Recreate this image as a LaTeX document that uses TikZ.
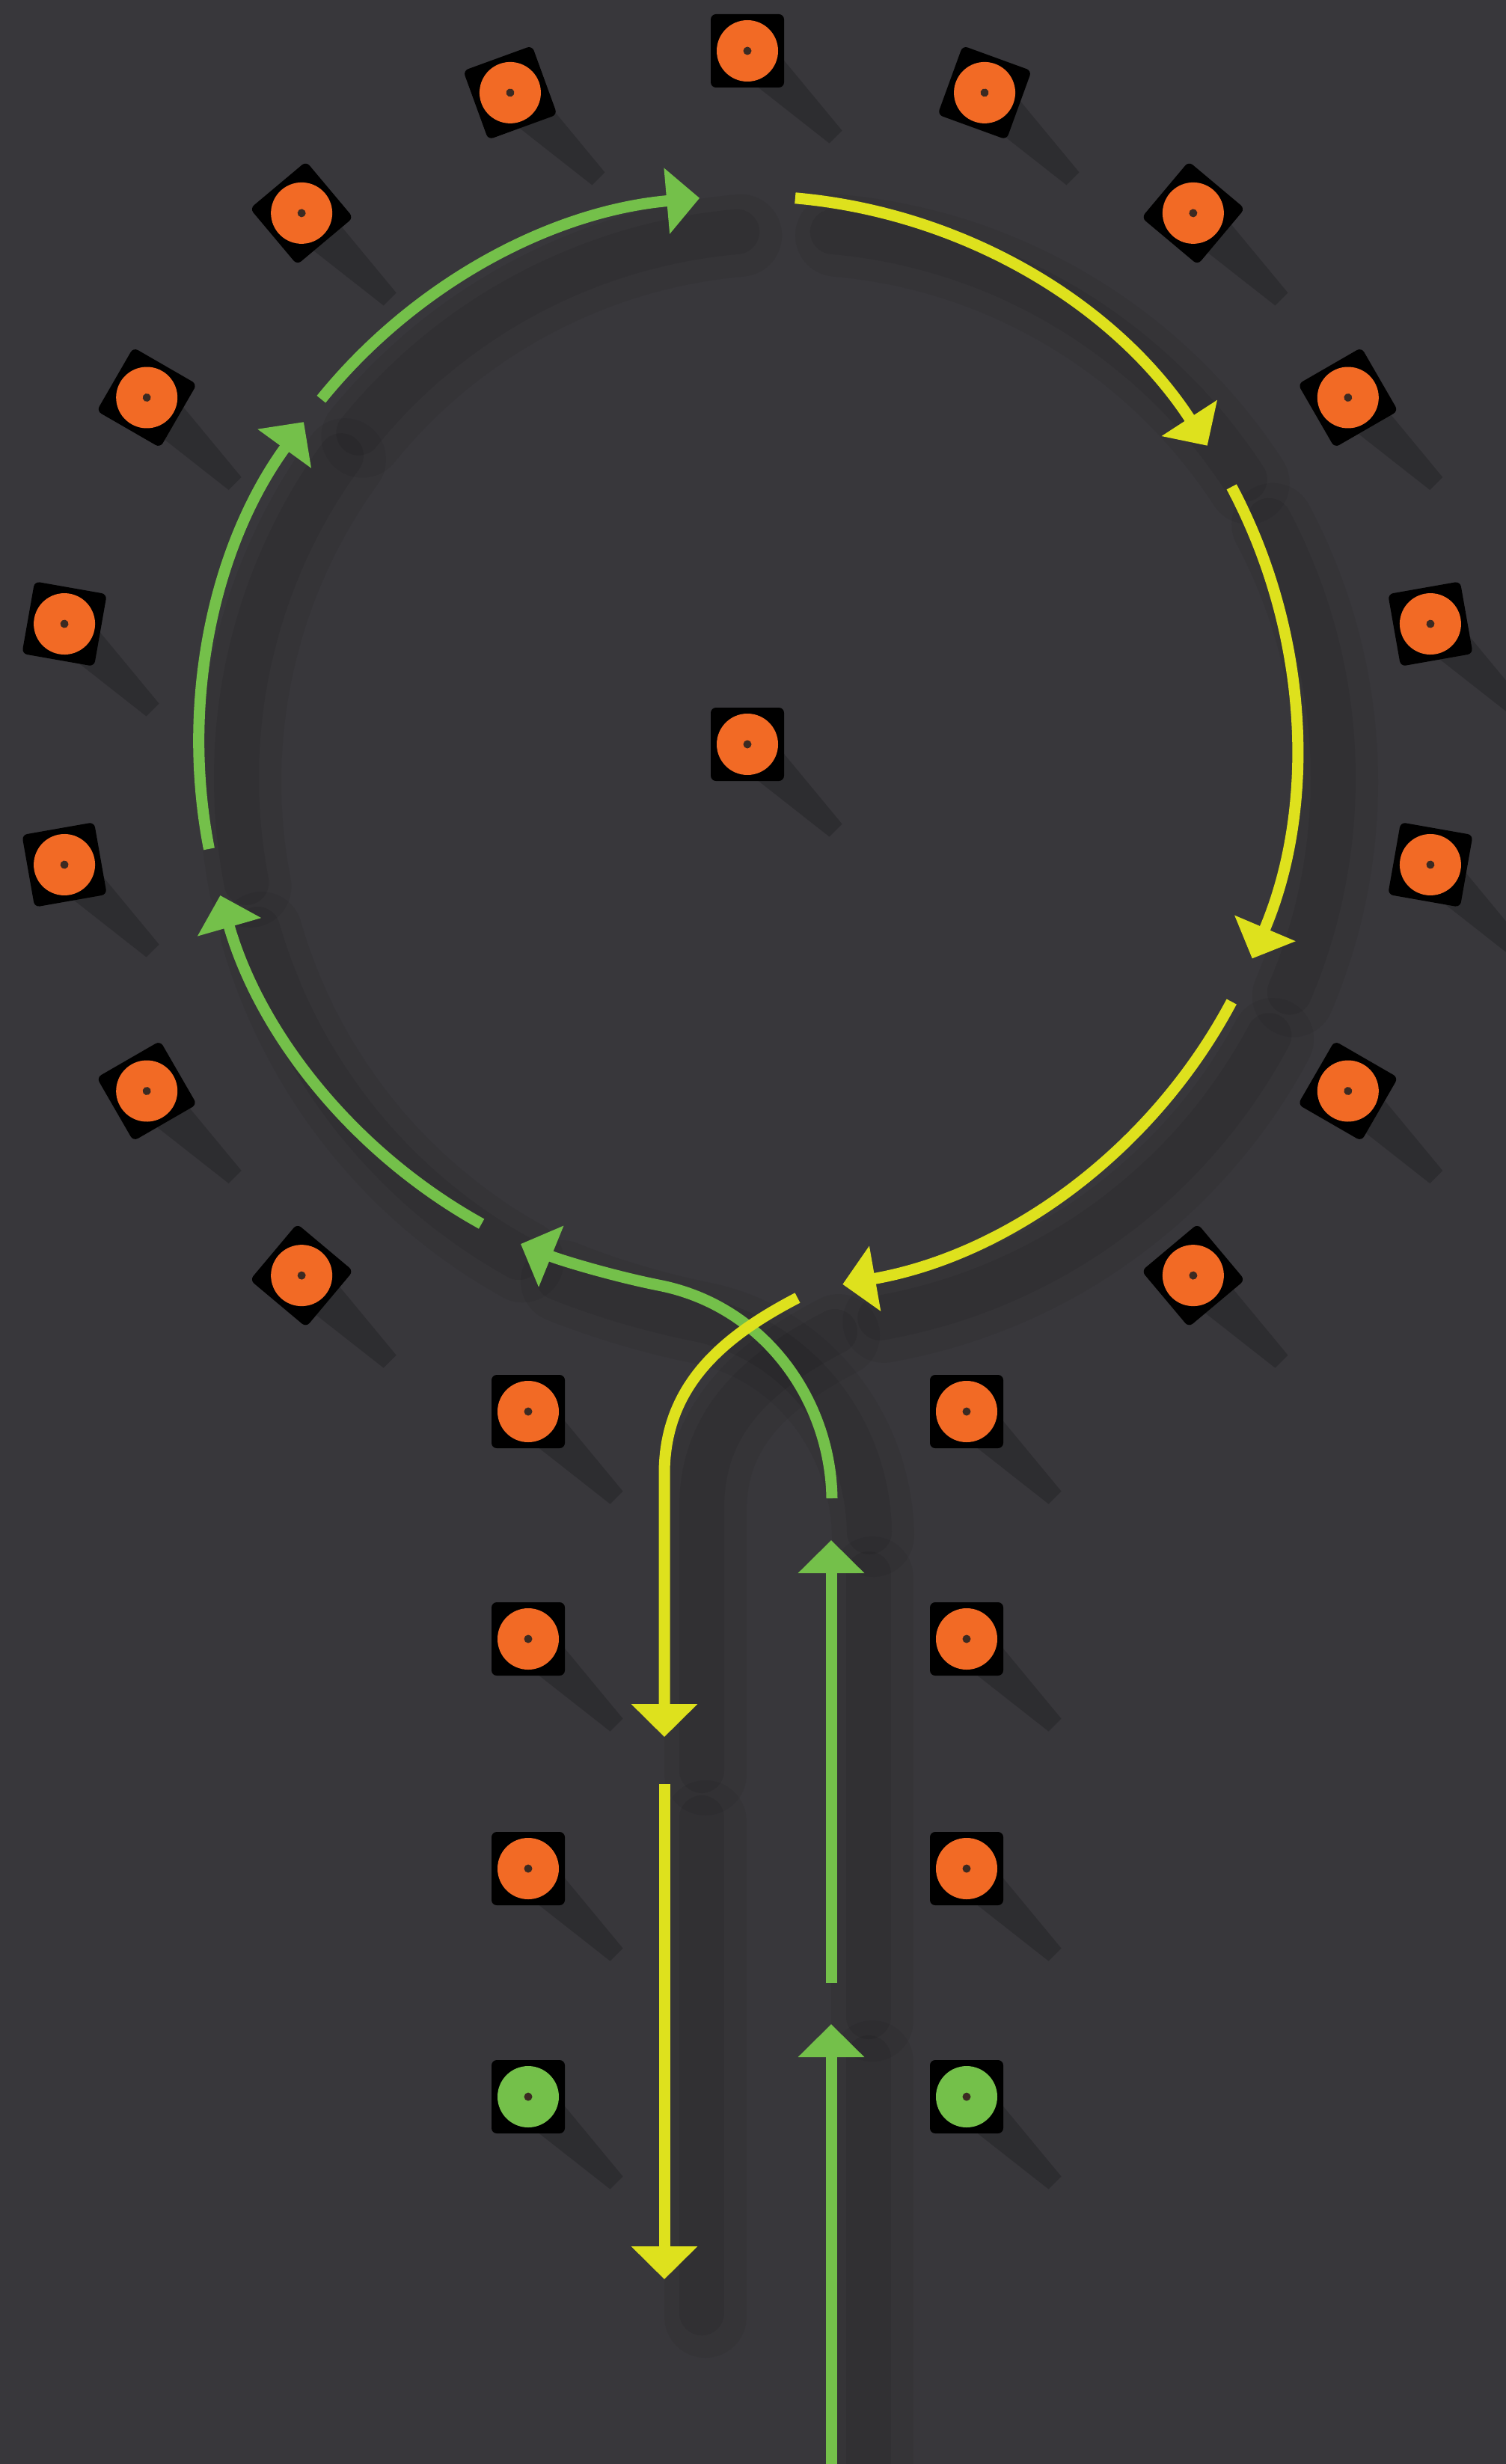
\documentclass[tikz,border=0pt]{standalone}
\usetikzlibrary{arrows.meta}
\definecolor{bg}{HTML}{38373B}
\definecolor{cone}{HTML}{F26A25}
\definecolor{grn}{HTML}{74C04A}
\definecolor{ylw}{HTML}{DEE11D}
\definecolor{dotc}{HTML}{3B2A22}
\newcommand\runsall[2]{%
 \draw[#1] (11.11,-33.2) -- (11.11,-27.06);
 \draw[#1] (11.11,-26.51) -- (11.11,-20.59);
 \draw[#1] (11.12,-20.03) .. controls (11.10,-18.7) and (10.2,-17.45) .. (8.80,-17.18) .. controls (8.2,-17.06) and (7.5,-16.85) .. (6.96,-16.63);
 \draw[#1] ([shift={(241:7.33)}]9.99,-9.95) arc[start angle=241,end angle=196,radius=7.33];
 \draw[#1] ([shift={(191:7.33)}]9.99,-9.95) arc[start angle=191,end angle=144,radius=7.33];
 \draw[#1] ([shift={(141:7.33)}]9.99,-9.95) arc[start angle=141,end angle=95,radius=7.33];
 \draw[#2] ([shift={(85:7.33)}]9.99,-9.95) arc[start angle=85,end angle=33,radius=7.33];
 \draw[#2] ([shift={(28:7.33)}]9.99,-9.95) arc[start angle=28,end angle=-23,radius=7.33];
 \draw[#2] ([shift={(-28:7.33)}]9.99,-9.95) arc[start angle=-28,end angle=-80,radius=7.33];
 \draw[#2] (10.66,-17.35) .. controls (9.7,-17.85) and (8.88,-18.5) .. (8.88,-19.7) -- (8.88,-23.22);
 \draw[#2] (8.88,-23.85) -- (8.88,-30.47);
}
\begin{document}
\begin{tikzpicture}[
  mk/.style={fill=black, rounded corners=0.07cm, minimum size=0.98cm, inner sep=0pt, draw=none,
    path picture={\fill[#1] (path picture bounding box.center) circle (0.41cm);
                  \fill[dotc] (path picture bounding box.center) circle (0.055cm);}},
  mkshadow/.style={fill=black, opacity=0.18},
  run/.style={line width=0.15cm, -{Triangle[length=0.44cm,width=0.86cm]}},
  grun/.style={run, draw=grn},
  yrun/.style={run, draw=ylw},
  runshadowa/.style={draw=black, opacity=0.05, line width=1.1cm, line cap=round, shift={(0.55,-0.5)}},
  runshadowb/.style={draw=black, opacity=0.07, line width=0.6cm, line cap=round, shift={(0.5,-0.45)}},
]
\fill[bg] (0,0) rectangle (20.13,-32.94);
\useasboundingbox (0,0) rectangle (20.13,-32.94);
\coordinate (C) at (9.99,-9.95);
% marker shadows
\foreach \a in {310,330,350,10,30,50,70,90,110,130,150,170,190,210,230}
  \fill[mkshadow] ([shift={(\a:9.27)}]9.99,-9.95) ++(-0.21,-0.21) -- ++(0.42,0.42) -- ++(1.055,-1.275) -- ++(-0.17,-0.17) -- cycle;
\fill[mkshadow] (9.99,-9.95) ++(-0.21,-0.21) -- ++(0.42,0.42) -- ++(1.055,-1.275) -- ++(-0.17,-0.17) -- cycle;
\foreach \y in {-18.87,-21.91,-24.98,-28.03}
  \foreach \x in {7.06,12.92}
    \fill[mkshadow] (\x,\y) ++(-0.21,-0.21) -- ++(0.42,0.42) -- ++(1.055,-1.275) -- ++(-0.17,-0.17) -- cycle;
% run shadows
\runsall{runshadowa}{runshadowa}
\runsall{runshadowb}{runshadowb}
% runs
\runsall{grun}{yrun}
% ring markers
\foreach \a in {310,330,350,10,30,50,70,90,110,130,150,170,190,210,230}
  \node[mk=cone, rotate=\a-90] (r\a) at ([shift={(\a:9.27)}]C) {};
\node[mk=cone] (center) at (C) {};
% stem markers
\foreach \y/\i in {-18.87/1,-21.91/2,-24.98/3}{
  \node[mk=cone] (sl\i) at (7.06,\y) {};
  \node[mk=cone] (sr\i) at (12.92,\y) {};
}
\node[mk=grn] (sl4) at (7.06,-28.03) {};
\node[mk=grn] (sr4) at (12.92,-28.03) {};
\end{tikzpicture}
\end{document}
